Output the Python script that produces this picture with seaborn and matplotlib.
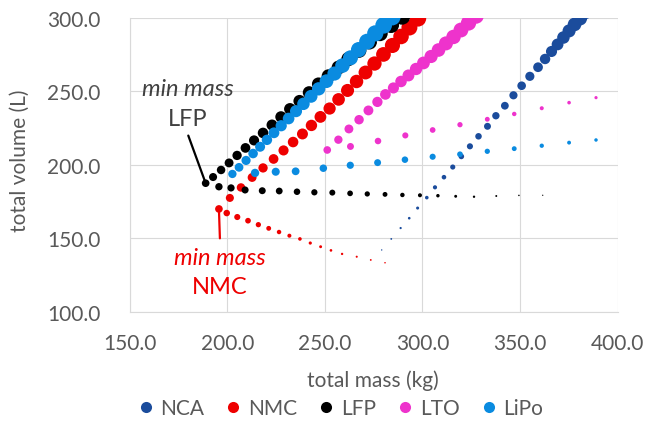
import matplotlib
matplotlib.use("Agg")
import matplotlib.pyplot as plt
from matplotlib.lines import Line2D
import numpy as np
import pandas as pd
import seaborn as sns

# ---- pack designs: total mass (kg), total volume (L), bubble size ----
# each chemistry: lighter designs listed first (min-mass design, lower branch, upper branch)
nca_mass = [279.1, 284.0, 288.8, 293.2, 297.5, 302.2, 306.4, 311.0, 315.5, 319.9,
            324.3, 328.7, 333.3, 337.6, 342.2, 346.6, 350.8, 355.0, 359.2, 362.8,
            366.1, 369.2, 372.2, 375.1, 377.9, 380.7, 383.3]
nca_vol = [142.2, 149.7, 157.1, 163.8, 170.7, 177.8, 184.8, 191.7, 198.6, 205.8,
           212.7, 219.5, 226.3, 233.5, 240.3, 247.4, 253.9, 260.3, 266.5, 272.1,
           277.2, 282.0, 286.7, 291.2, 295.6, 299.7, 304.1]
nca_size = [1.0, 1.3, 1.6, 1.9, 2.2, 2.6, 3.0, 3.3, 3.7, 4.0,
            4.4, 4.7, 5.0, 5.3, 5.6, 5.9, 6.2, 6.6, 7.0, 7.5,
            8.0, 8.5, 9.0, 9.4, 9.8, 10.2, 10.5]

nmc_mass = [195.7,
            199.7, 205.1, 210.6, 215.9, 221.2, 226.5, 231.8, 237.2, 242.5, 247.8,
            253.1, 258.8, 266.3, 273.5, 280.8,
            201.3, 207.0, 212.7, 218.3, 223.7, 228.8, 233.7, 238.5, 243.1, 247.7,
            252.4, 257.0, 261.6, 266.2, 270.8, 275.4, 280.0, 284.6, 289.0, 293.3,
            297.7, 302.0]
nmc_vol = [170.1,
           167.3, 164.6, 162.1, 159.4, 156.9, 154.4, 151.9, 149.7, 146.9, 144.4,
           141.9, 139.5, 137.6, 135.4, 133.5,
           177.6, 184.7, 191.5, 198.0, 204.1, 209.9, 215.6, 221.1, 226.9, 232.7,
           238.4, 244.6, 250.7, 256.8, 262.9, 269.0, 275.2, 281.3, 287.4, 293.5,
           299.7, 305.8]
nmc_size = [5.5,
            4.7, 4.4, 4.1, 3.8, 3.5, 3.2, 2.9, 2.6, 2.3, 2.1,
            1.9, 1.7, 1.5, 1.3, 1.1,
            5.8, 6.1, 6.4, 6.7, 7.0, 7.3, 7.6, 7.9, 8.2, 8.5,
            8.8, 9.1, 9.4, 9.7, 10.0, 10.3, 10.6, 10.9, 11.2, 11.5,
            11.8, 12.1]

lfp_mass = [188.9,
            195.7, 201.9, 209.1, 217.9, 226.6, 235.7, 244.6, 253.8, 262.9, 271.7,
            280.8, 289.7, 298.7, 307.9, 317.0, 326.4, 337.8, 349.4, 361.6,
            192.7, 196.8, 200.9, 205.0, 209.3, 213.7, 218.3, 222.9, 227.5, 232.1,
            237.0, 241.9, 246.7, 251.8, 257.0, 262.1, 267.5, 272.8, 278.2, 283.9,
            289.5]
lfp_vol = [187.6,
           185.2, 184.4, 183.0, 182.5, 182.3, 181.8, 181.4, 181.2, 180.7, 180.3,
           180.0, 179.6, 179.4, 179.1, 178.7, 178.4, 178.9, 179.3, 179.4,
           191.8, 196.6, 201.4, 206.5, 211.6, 216.7, 221.8, 227.2, 232.7, 238.1,
           243.5, 249.3, 255.1, 260.5, 266.3, 272.1, 277.9, 283.7, 289.5, 295.2,
           301.0]
lfp_size = [5.5,
            5.3, 5.2, 5.1, 5.0, 4.9, 4.7, 4.5, 4.3, 4.1, 3.8,
            3.5, 3.2, 2.9, 2.5, 2.1, 1.7, 1.4, 1.1, 0.9,
            5.8, 6.1, 6.4, 6.7, 7.0, 7.3, 7.6, 7.9, 8.2, 8.5,
            8.8, 9.1, 9.4, 9.7, 10.0, 10.3, 10.6, 10.9, 11.2, 11.5,
            11.8]

lto_mass = [251.2,
            263.1, 277.2, 291.2, 305.2, 319.2, 333.2, 347.0, 361.1, 375.1, 388.9,
            256.9, 262.3, 267.5, 272.3, 276.9, 281.0, 285.1, 289.0, 292.8, 296.7,
            300.5, 304.4, 308.2, 312.0, 315.9, 319.7, 323.6, 327.4]
lto_vol = [210.2,
           212.6, 216.3, 220.1, 223.8, 227.4, 231.1, 234.7, 238.6, 242.4, 245.8,
           217.2, 224.5, 230.8, 237.1, 242.9, 248.0, 252.4, 256.8, 260.9, 265.3,
           269.4, 273.8, 278.2, 282.7, 287.1, 291.8, 296.6, 301.4]
lto_size = [5.5,
            5.0, 4.7, 4.4, 4.1, 3.8, 3.5, 3.2, 2.9, 2.6, 2.3,
            6.0, 6.4, 6.8, 7.1, 7.4, 7.7, 8.0, 8.3, 8.6, 8.9,
            9.2, 9.5, 9.8, 10.1, 10.4, 10.7, 11.0, 11.3]

lipo_mass = [202.6,
             214.2, 224.8, 235.0, 249.2, 263.0, 277.0, 291.0, 305.2, 319.2, 333.2,
             347.0, 361.1, 375.1, 388.9,
             206.0, 209.6, 213.2, 216.8, 220.3, 223.9, 227.6, 231.4, 235.2, 239.0,
             242.9, 246.8, 250.8, 254.9, 259.0, 263.1, 267.3, 271.6, 275.8, 280.1,
             284.4]
lipo_vol = [193.9,
            194.6, 195.4, 195.7, 197.8, 199.8, 201.6, 203.6, 205.6, 207.3, 209.3,
            211.1, 213.1, 215.2, 217.0,
            198.4, 203.1, 207.8, 212.4, 217.1, 221.9, 226.7, 231.6, 236.6, 241.6,
            246.7, 251.8, 257.0, 262.2, 267.6, 272.9, 278.4, 283.9, 289.5, 295.0,
            300.7]
lipo_size = [6.0,
             6.0, 5.8, 5.6, 5.4, 5.2, 5.0, 4.7, 4.4, 4.1, 3.8,
             3.5, 3.1, 2.8, 2.5,
             6.3, 6.6, 6.9, 7.2, 7.5, 7.8, 8.1, 8.4, 8.7, 9.0,
             9.3, 9.6, 9.9, 10.2, 10.5, 10.8, 11.1, 11.4, 11.7, 12.0,
             12.3]

chemistries = ["NCA", "NMC", "LFP", "LTO", "LiPo"]
colors = ["#1B4C9C", "#EE0000", "#000000", "#EE33CC", "#0A8BE0"]
x_ticks = [150.0, 200.0, 250.0, 300.0, 350.0, 400.0]
y_ticks = [100.0, 150.0, 200.0, 250.0, 300.0]

series = {
    "NCA": (nca_mass, nca_vol, nca_size),
    "NMC": (nmc_mass, nmc_vol, nmc_size),
    "LFP": (lfp_mass, lfp_vol, lfp_size),
    "LTO": (lto_mass, lto_vol, lto_size),
    "LiPo": (lipo_mass, lipo_vol, lipo_size),
}
frames = []
for name in chemistries:
    m, v, s = series[name]
    frames.append(pd.DataFrame({"mass": m, "volume": v, "chem": name,
                                "area": np.square(s)}))
df = pd.concat(frames, ignore_index=True)

FONT = ["Lato", "DejaVu Sans"]
GRAY = "#595959"
GRID = "#D9D9D9"

sns.set_theme(style="white")
plt.rcParams["font.family"] = FONT

fig = plt.figure(figsize=(6.48, 4.31), dpi=100)
ax = fig.add_axes([0.2002, 0.2738, 0.7530, 0.6822])

# bubble area grows linearly with the squared size value
amax = 13.0 ** 2
pt_per_unit = 1.0
sns.scatterplot(data=df, x="mass", y="volume", hue="chem", size="area",
                palette=dict(zip(chemistries, colors)),
                sizes=(0, pt_per_unit * amax), size_norm=(0, amax),
                linewidth=0, legend=False, ax=ax, zorder=3)

ax.set_xlim(150, 400)
ax.set_ylim(100, 300)
ax.set_xticks(x_ticks)
ax.set_yticks(y_ticks)
ax.set_xticklabels([f"{t:.1f}" for t in x_ticks])
ax.set_yticklabels([f"{t:.1f}" for t in y_ticks])
ax.tick_params(axis="both", length=0, labelsize=15, labelcolor=GRAY)
ax.tick_params(axis="y", pad=21)
ax.tick_params(axis="x", pad=15)
ax.grid(True, color=GRID, linewidth=0.8, zorder=0)
ax.set_axisbelow(True)
for side in ["top", "right"]:
    ax.spines[side].set_visible(False)
for side in ["left", "bottom"]:
    ax.spines[side].set_color(GRID)
    ax.spines[side].set_linewidth(0.8)
ax.set_xlabel("")
ax.set_ylabel("")

fig.text(20 / 648, 1 - 161 / 431, "total volume (L)", rotation=90,
         ha="center", va="center", fontsize=15, color=GRAY)
fig.text(373 / 648, 1 - 381 / 431, "total mass (kg)",
         ha="center", va="center", fontsize=15, color=GRAY)

# min-mass call-outs
i_lfp = int(np.argmin(lfp_mass))
ax.annotate("", xy=(lfp_mass[i_lfp], lfp_vol[i_lfp]), xytext=(180.0, 220.0),
            arrowprops=dict(arrowstyle="-", color="black", lw=1.6,
                            shrinkA=0, shrinkB=2), zorder=4)
ax.text(179.6, 251.7, "min mass", style="italic", ha="center", va="center",
        fontsize=17, color="#404040")
ax.text(179.9, 231.3, "LFP", ha="center", va="center", fontsize=17,
        color="#404040")

i_nmc = int(np.argmin(nmc_mass))
ax.annotate("", xy=(nmc_mass[i_nmc], nmc_vol[i_nmc]), xytext=(196.2, 150.1),
            arrowprops=dict(arrowstyle="-", color="#EE0000", lw=1.6,
                            shrinkA=0, shrinkB=2), zorder=4)
ax.text(196.3, 137.2, "min mass", style="italic", ha="center", va="center",
        fontsize=17, color="#EE0000", clip_on=False)
ax.text(196.3, 117.0, "NMC", ha="center", va="center", fontsize=17,
        color="#EE0000", clip_on=False)

handles = [Line2D([], [], marker="o", linestyle="", markersize=8,
                  markerfacecolor=c, markeredgewidth=0, label=n)
           for n, c in zip(chemistries, colors)]
fig.legend(handles=handles, loc="center", bbox_to_anchor=(0.525, 1 - 409 / 431),
           ncol=5, frameon=False, fontsize=15, labelcolor=GRAY,
           handletextpad=0.3, columnspacing=1.0, handlelength=0.8)

fig.savefig("out.png", dpi=100)
